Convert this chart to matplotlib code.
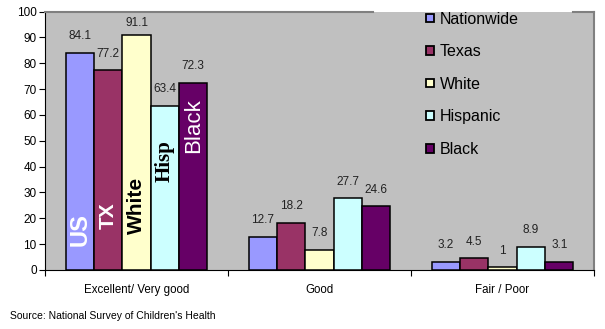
import matplotlib.pyplot as plt
from matplotlib.patches import Patch

plt.rcParams['font.family'] = ['Liberation Sans', 'DejaVu Sans']

categories = ["Excellent/ Very good", "Good", "Fair / Poor"]
series = ["Nationwide", "Texas", "White", "Hispanic", "Black"]
values = [
    [84.1, 12.7, 3.2],   # Nationwide
    [77.2, 18.2, 4.5],   # Texas
    [91.1, 7.8, 1],      # White
    [63.4, 27.7, 8.9],   # Hispanic
    [72.3, 24.6, 3.1],   # Black
]
colors = ["#9999ff", "#993366", "#ffffcc", "#ccffff", "#660066"]
y_ticks = [0, 10, 20, 30, 40, 50, 60, 70, 80, 90, 100]

# labels written inside the first group of bars
inner_labels = ["US", "TX", "White", "Hisp", "Black"]
inner_y = [15.5, 21, 25, 42, 56]
inner_style = [
    dict(color="white", fontweight="bold", fontsize=17),
    dict(color="white", fontweight="bold", fontsize=15),
    dict(color="black", fontweight="bold", fontsize=15),
    dict(color="black", fontweight="bold", fontsize=15, family="Liberation Serif"),
    dict(color="white", fontsize=16),
]

fig = plt.figure(figsize=(6.05, 3.29), dpi=100)
ax = fig.add_axes([45 / 605, 1 - 270 / 329, 549 / 605, 258.5 / 329])
ax.set_facecolor("#c0c0c0")

width = 0.155
for i, name in enumerate(series):
    xs = [c + (i - 2) * width for c in range(len(categories))]
    ax.bar(xs, values[i], width=width, color=colors[i], edgecolor="black",
           linewidth=1.1, zorder=3)
    for x, v in zip(xs, values[i]):
        # value labels sit above the bar, but stay inside the plot area
        ax.text(x, min(v + 6.5, 95.5), f"{v:g}", ha="center", va="center",
                fontsize=8.5, color="#222222", zorder=4)
    ax.text(xs[0], inner_y[i], inner_labels[i], rotation=90, ha="center",
            va="center", zorder=4, **inner_style[i])

ax.set_xlim(-0.5, 2.5)
ax.set_ylim(0, 100)
ax.set_yticks(y_ticks)
ax.set_xticks([-0.5, 0.5, 1.5, 2.5])
ax.set_xticklabels([])
ax.set_xticks(range(len(categories)), minor=True)
ax.set_xticklabels(categories, minor=True)
ax.tick_params(axis="x", which="minor", length=0, labelsize=8.3, pad=10)
ax.tick_params(axis="x", which="major", length=4, direction="out")
ax.tick_params(axis="y", labelsize=8.5, length=4, direction="out", pad=2)

for s in ["left", "bottom"]:
    ax.spines[s].set_color("black")
ax.spines["top"].set_visible(False)
ax.spines["right"].set_color("#808080")
ax.spines["right"].set_linewidth(1.5)
# top border is hidden behind the legend area
ax.plot([0, (373 - 45) / 549], [1, 1], transform=ax.transAxes, color="#808080",
        lw=1.5, clip_on=False, zorder=5)
ax.plot([(573 - 45) / 549, 1], [1, 1], transform=ax.transAxes, color="#808080",
        lw=1.5, clip_on=False, zorder=5)

handles = [Patch(facecolor=c, edgecolor="black", linewidth=1.3) for c in colors]
ax.legend(handles, series, loc="upper left", bbox_to_anchor=(0.683, 1.024),
          frameon=False, prop={"family": "Liberation Sans", "size": 11.5},
          handlelength=0.45, handleheight=0.45,
          handletextpad=0.4, labelspacing=1.1, borderaxespad=0)

fig.text(10 / 605, 1 - 316 / 329, "Source: National Survey of Children's Health",
         fontsize=7.5, va="center")

fig.savefig("out.png", dpi=100)
